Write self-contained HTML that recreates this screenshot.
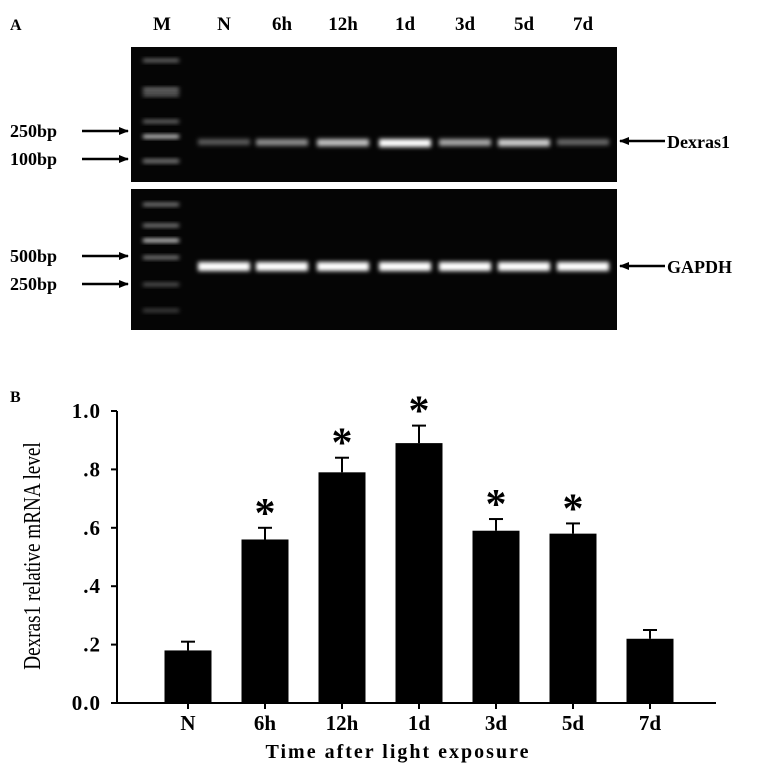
<!DOCTYPE html>
<html><head><meta charset="utf-8"><style>
body{margin:0;background:#fff;width:767px;height:770px;overflow:hidden;font-family:"Liberation Serif",serif;}
svg text{font-family:"Liberation Serif",serif;font-weight:bold;}
</style></head><body>
<svg width="767" height="770">
<defs>
<filter id="blur" x="-20%" y="-100%" width="140%" height="300%"><feGaussianBlur stdDeviation="2"/></filter>
<marker id="ah" markerUnits="userSpaceOnUse" markerWidth="10" markerHeight="8" refX="9" refY="4" orient="auto"><path d="M0,0 L10,4 L0,8 Z" fill="#000"/></marker>
</defs>
<text x="10" y="30" font-size="16">A</text>
<g id="lanes"></g>
<rect x="131" y="47" width="486" height="135" fill="#050505"/>
<rect x="131" y="189" width="486" height="141" fill="#050505"/>
<g id="bands"></g>
<g font-size="18">
<text x="10" y="137">250bp</text><line x1="82" y1="131" x2="128" y2="131" stroke="#000" stroke-width="2.5" marker-end="url(#ah)"/>
<text x="10" y="165">100bp</text><line x1="82" y1="159" x2="128" y2="159" stroke="#000" stroke-width="2.5" marker-end="url(#ah)"/>
<text x="10" y="262">500bp</text><line x1="82" y1="256" x2="128" y2="256" stroke="#000" stroke-width="2.5" marker-end="url(#ah)"/>
<text x="10" y="290">250bp</text><line x1="82" y1="284" x2="128" y2="284" stroke="#000" stroke-width="2.5" marker-end="url(#ah)"/>
<line x1="665" y1="141" x2="620" y2="141" stroke="#000" stroke-width="2.5" marker-end="url(#ah)"/><text x="667" y="148">Dexras1</text>
<line x1="665" y1="266" x2="620" y2="266" stroke="#000" stroke-width="2.5" marker-end="url(#ah)"/><text x="667" y="273">GAPDH</text>
</g>
<text x="10" y="402" font-size="16">B</text>
<g id="chart"></g>
<text transform="translate(40,556) rotate(-90) scale(0.8,1)" text-anchor="middle" font-size="24" style="font-weight:normal">Dexras1 relative mRNA level</text>
<text x="398" y="758" text-anchor="middle" font-size="20" letter-spacing="2">Time after light exposure</text>
</svg>
<script>
const categories=["N","6h","12h","1d","3d","5d","7d"];
const values=[0.18,0.56,0.79,0.89,0.59,0.58,0.22];
const errors=[0.03,0.04,0.05,0.06,0.04,0.035,0.03];
const significant=[false,true,true,true,true,true,false];
const yTicks=[0,0.2,0.4,0.6,0.8,1.0];
const yTickLabels=["0.0",".2",".4",".6",".8","1.0"];
const dexBand=[0.35,0.55,0.75,1.0,0.65,0.8,0.4];
const gapdhBand=[1,1,1,1,1,1,1];
const NS="http://www.w3.org/2000/svg";
function mk(t,a,p){const e=document.createElementNS(NS,t);for(const k in a)e.setAttribute(k,a[k]);p.appendChild(e);return e;}
const y=v=>703-v*292;
const x=i=>188+i*77;
const g=document.getElementById('chart');
let ax=mk('line',{x1:117,y1:y(1),x2:117,y2:703,stroke:'#000','stroke-width':2},g);


let bx=mk('line',{x1:117,y1:703,x2:716,y2:703,stroke:'#000','stroke-width':2},g);


yTicks.forEach((v,i)=>{
 mk('line',{x1:111,y1:y(v),x2:117,y2:y(v),stroke:'#000','stroke-width':2},g);
 const t=mk('text',{x:101,y:y(v)+7,'text-anchor':'end','font-size':21,'letter-spacing':1},g);t.textContent=yTickLabels[i];
 
 
});
categories.forEach((c,i)=>{
 const cx=x(i);
 const r=mk('rect',{x:cx-23.5,y:y(values[i]),width:47,height:703-y(values[i]),fill:'#000'},g);
 
 
 const e=values[i]+errors[i];
 mk('line',{x1:cx,y1:y(values[i]),x2:cx,y2:y(e),stroke:'#000','stroke-width':2},g);
 mk('line',{x1:cx-7,y1:y(e),x2:cx+7,y2:y(e),stroke:'#000','stroke-width':2},g);
 mk('line',{x1:cx,y1:703,x2:cx,y2:709,stroke:'#000','stroke-width':2},g);
 const t=mk('text',{x:cx,y:730,'text-anchor':'middle','font-size':21},g);t.textContent=c;
 
 
 if(significant[i]){const s=mk('text',{x:cx,y:y(e)-1,'text-anchor':'middle','font-size':42},g);s.textContent='*';
 
 }
});
const lg=document.getElementById('lanes');
const laneX=[162,224,282,343,405,465,524,583];
["M"].concat(categories).forEach((c,i)=>{const t=mk('text',{x:laneX[i],y:30,'text-anchor':'middle','font-size':19},lg);t.textContent=c;});
const bg=document.getElementById('bands');
[[88,0.6],[120,0.5],[135,1],[160,0.4]].forEach(m=>mk('rect',{x:143,y:m[0],width:36,height:3,fill:'rgba(255,255,255,'+m[1]+')',filter:'url(#blur)'},bg));
[[59,0.5],[93,0.5],[159,0.3],[203,0.6],[224,0.6],[239,1],[256,0.6],[283,0.4],[309,0.3]].forEach(m=>mk('rect',{x:143,y:m[0],width:36,height:3,fill:'rgba(255,255,255,'+m[1]+')',filter:'url(#blur)'},bg));
categories.forEach((c,i)=>{
 const cx=laneX[i+1];
 const b=mk('rect',{x:cx-26,y:139,width:52,height:5+dexBand[i]*3,fill:'rgba(255,255,255,'+dexBand[i]+')',filter:'url(#blur)'},bg);
 
 
 const b2=mk('rect',{x:cx-26,y:262,width:52,height:9,fill:'rgba(255,255,255,'+gapdhBand[i]+')',filter:'url(#blur)'},bg);
 
 
});
</script>
</body></html>
